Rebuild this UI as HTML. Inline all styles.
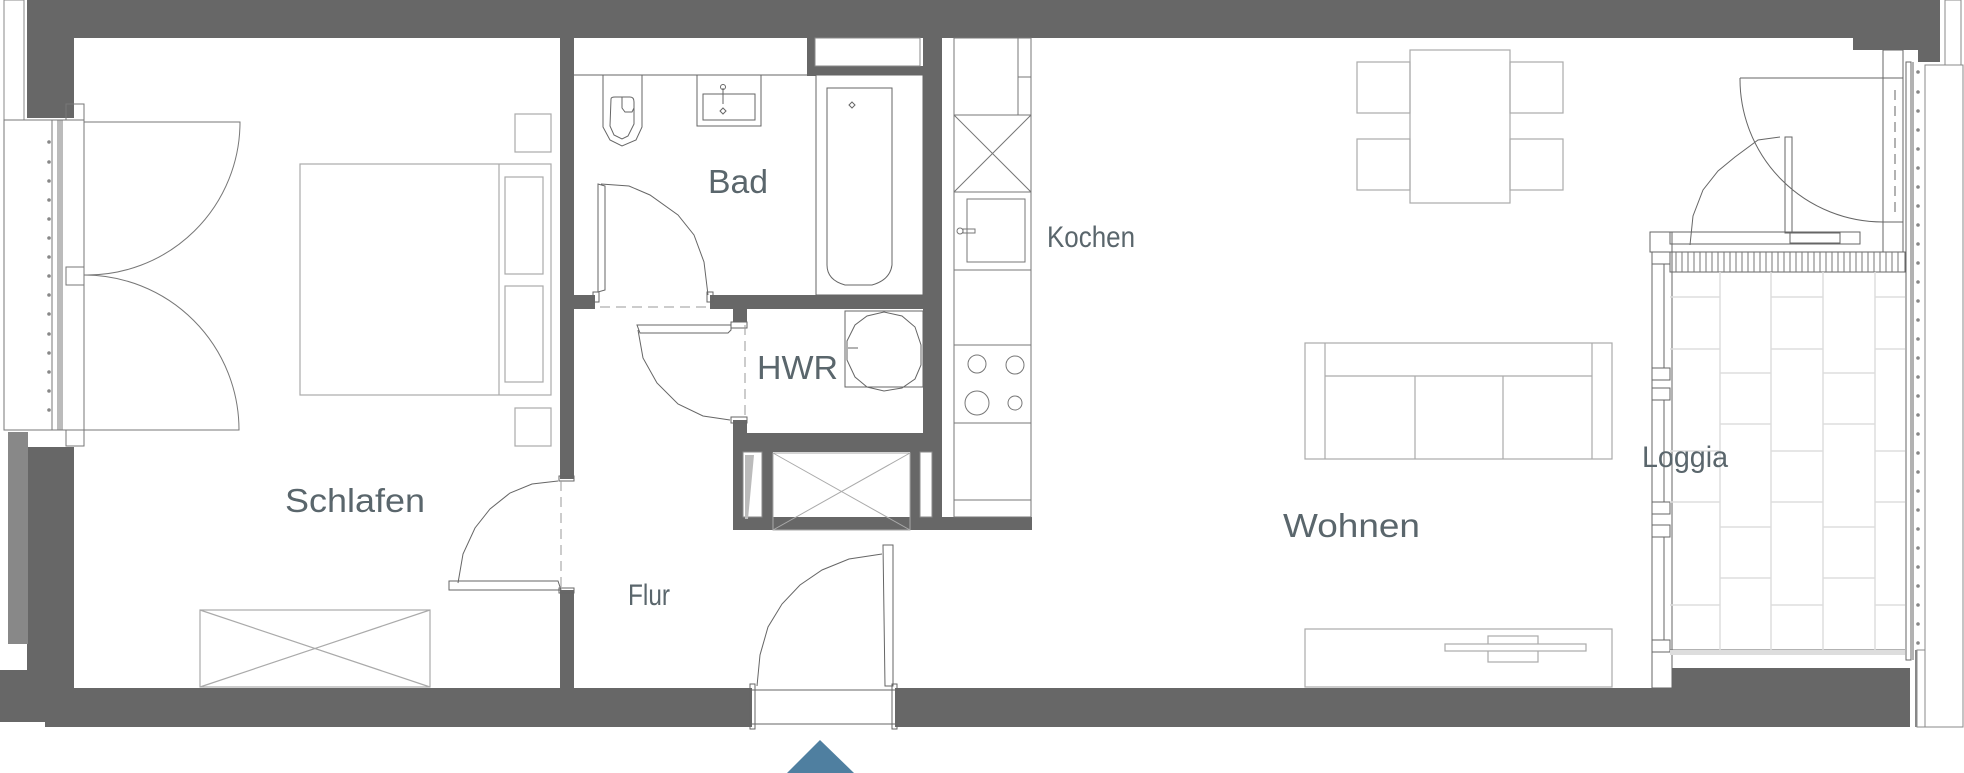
<!DOCTYPE html>
<html><head><meta charset="utf-8"><style>
html,body{margin:0;padding:0;background:#fff;}
svg{display:block;}
text{font-family:"Liberation Sans",sans-serif;fill:#5a666c;font-size:33px;}
</style></head><body>
<svg width="1964" height="773" viewBox="0 0 1964 773" xmlns="http://www.w3.org/2000/svg">
<g fill="#676767" stroke="none">
<rect x="27" y="0" width="1913" height="38"/>
<rect x="1853" y="38" width="87" height="12"/>
<rect x="1918" y="50" width="22" height="12"/>
<rect x="27" y="0" width="47" height="118"/>
<rect x="27" y="447" width="47" height="241"/>
<rect x="8" y="432" width="20" height="212" fill="#888"/>
<rect x="0" y="670" width="45" height="52"/>
<rect x="45" y="688" width="707" height="39"/>
<rect x="895" y="688" width="757" height="39"/>
<rect x="1652" y="688" width="258" height="39"/>
<rect x="1672" y="668" width="238" height="20"/>
<rect x="1915" y="650" width="20" height="16" fill="#888"/>
<rect x="1915" y="666" width="10" height="61" fill="#888"/>
<rect x="560" y="38" width="14" height="441"/>
<rect x="560" y="590" width="14" height="98"/>
<rect x="560" y="295" width="35" height="14"/>
<rect x="710" y="295" width="232" height="14"/>
<rect x="923" y="38" width="19" height="492"/>
<rect x="807" y="38" width="9" height="38"/>
<rect x="807" y="66" width="116" height="9"/>
<rect x="733" y="309" width="14" height="13"/>
<rect x="733" y="420" width="14" height="110"/>
<rect x="733" y="433" width="209" height="19"/>
<rect x="762" y="452" width="11" height="78"/>
<rect x="910" y="452" width="10" height="78"/>
<rect x="733" y="517" width="299" height="13"/>
</g>
<g fill="#fff" stroke="#888" stroke-width="1">
<rect x="4" y="0" width="20" height="120"/>
<rect x="1945" y="0" width="16" height="65"/>
<rect x="1925" y="65" width="38" height="662"/>
<rect x="815" y="38" width="105" height="28"/>
<rect x="743" y="452" width="19" height="65"/>
<rect x="920" y="452" width="12" height="65"/>
<rect x="1917" y="650" width="8" height="77"/>
</g>
<g fill="none" stroke="#777" stroke-width="1">
<rect x="4" y="120" width="48" height="310"/>
<rect x="52" y="120" width="8" height="310"/>
<rect x="58" y="120" width="26" height="310"/>
<rect x="66" y="104" width="18" height="16"/>
<rect x="66" y="430" width="18" height="16"/>
<rect x="66" y="267" width="18" height="18"/>
<line x1="62" y1="120" x2="62" y2="430"/>
<path d="M84 122 H240 A153 153 0 0 1 84 275"/>
<path d="M84 275 A155 155 0 0 1 239 430 H84"/>
</g>
<g fill="#888"><circle cx="49" cy="142" r="1.8"/><circle cx="49" cy="162" r="1.8"/><circle cx="49" cy="181" r="1.8"/><circle cx="49" cy="200" r="1.8"/><circle cx="49" cy="219" r="1.8"/><circle cx="49" cy="238" r="1.8"/><circle cx="49" cy="257" r="1.8"/><circle cx="49" cy="276" r="1.8"/><circle cx="49" cy="295" r="1.8"/><circle cx="49" cy="314" r="1.8"/><circle cx="49" cy="334" r="1.8"/><circle cx="49" cy="353" r="1.8"/><circle cx="49" cy="372" r="1.8"/><circle cx="49" cy="391" r="1.8"/><circle cx="49" cy="410" r="1.8"/></g>
<g fill="none" stroke="#aaa" stroke-width="1.2">
<rect x="515" y="114" width="36" height="38"/>
<rect x="300" y="164" width="251" height="231"/>
<line x1="499" y1="164" x2="499" y2="395"/>
<rect x="505" y="177" width="38" height="97"/>
<rect x="505" y="286" width="38" height="96"/>
<rect x="515" y="408" width="36" height="38"/>
<rect x="200" y="610" width="230" height="77"/>
<path d="M200 610 L430 687 M430 610 L200 687"/>
</g>
<g fill="none" stroke="#666" stroke-width="1">
<path d="M558 481 L532 484 L510 493 L490 509 L475 528 L463 554 L458 583"/>
<path d="M449 581 H558 L561 590 H449 Z"/>
<rect x="559" y="476" width="15" height="5"/><rect x="559" y="588" width="15" height="5"/>
<line x1="561" y1="481" x2="561" y2="588" stroke-dasharray="10 6" stroke="#999"/>
</g>
<g fill="none" stroke="#666" stroke-width="1">
<line x1="574" y1="75" x2="807" y2="75"/>
<path d="M603 75 V127 L610 140 L622 146 L636 140 L642 127 V75"/>
<path d="M611 99 Q611 97 615 97 H630 Q634 97 634 102 V124 L628 136 L622 139 L614 135 L610 126 Z"/>
<path d="M622 97 V108 L625 112 H632 L634 108"/>
<rect x="697" y="75" width="64" height="51"/>
<rect x="703" y="94" width="52" height="26"/>
<line x1="723" y1="88" x2="723" y2="104"/><circle cx="723" cy="87" r="2.5"/><path d="M723 108 l3 3 -3 3 -3 -3z"/>
<rect x="816" y="75" width="107" height="220"/>
<path d="M827 88 V265 Q827 280 845 285 H872 Q890 280 892 265 V88 Z"/>
<path d="M852 102 l3 3 -3 3 -3 -3z"/>
<path d="M598 184 L605 186 V290 L598 292 Z"/>
<path d="M601 184 L629 186 L650 195 L678 215 L694 235 L704 262 L708 295"/>
<rect x="593" y="292" width="6" height="10"/><rect x="707" y="292" width="6" height="10"/>
<line x1="600" y1="307" x2="710" y2="307" stroke-dasharray="10 6" stroke="#999"/>
</g>
<g fill="none" stroke="#666" stroke-width="1">
<path d="M637 325 H731 V330 L728 333 H640 Z"/>
<path d="M638 330 L643 358 L657 383 L678 404 L703 416 L730 420"/>
<rect x="731" y="322" width="16" height="6"/><rect x="731" y="417" width="16" height="6"/>
<line x1="745" y1="325" x2="745" y2="420" stroke-dasharray="10 6" stroke="#999"/>
<rect x="845" y="311" width="78" height="76"/>
<path d="M884 312 L902 316 L915 327 L921 345 L921 365 L915 379 L902 388 L884 391 L867 387 L855 377 L847 360 L847 341 L855 325 L867 316 Z"/>
<line x1="848" y1="348" x2="858" y2="348"/>
</g>
<g fill="none" stroke="#aaa" stroke-width="1"><rect x="773" y="453" width="137" height="77"/><path d="M773 453 L910 530 M910 453 L773 530"/></g>
<path d="M745 455 L754 455 L748 519 L745 519Z" fill="#bbb"/>
<g fill="none" stroke="#777" stroke-width="1">
<rect x="954" y="38" width="77" height="479"/>
<line x1="1018" y1="38" x2="1018" y2="115"/><line x1="1018" y1="77" x2="1031" y2="77"/>
<line x1="954" y1="115" x2="1031" y2="115"/><line x1="954" y1="192" x2="1031" y2="192"/>
<path d="M954 115 L1031 192 M1031 115 L954 192"/>
<line x1="954" y1="270" x2="1031" y2="270"/><line x1="954" y1="345" x2="1031" y2="345"/>
<line x1="954" y1="423" x2="1031" y2="423"/><line x1="954" y1="500" x2="1031" y2="500"/>
<rect x="967" y="199" width="58" height="63"/>
<circle cx="960" cy="231" r="3"/><rect x="963" y="229" width="12" height="4"/>
<circle cx="977" cy="364" r="9"/><circle cx="1015" cy="365" r="9"/><circle cx="977" cy="403" r="12"/><circle cx="1015" cy="403" r="7"/>
</g>
<g fill="none" stroke="#666" stroke-width="1">
<path d="M757 686 L760 655 L768 627 L782 604 L800 585 L822 570 L849 559 L882 554"/>
<path d="M883 545 H893 V686 H885 Z"/>
<rect x="750" y="684" width="5" height="45"/><rect x="892" y="684" width="5" height="45"/>
<line x1="752" y1="690" x2="895" y2="690"/><line x1="752" y1="724" x2="895" y2="724"/>
</g>
<polygon points="787,773 820,740 854,773" fill="#4f7fa0"/>
<g fill="none" stroke="#aaa" stroke-width="1.2">
<rect x="1410" y="50" width="100" height="153"/>
<rect x="1357" y="62" width="53" height="51"/><rect x="1357" y="139" width="53" height="51"/>
<rect x="1510" y="62" width="53" height="51"/><rect x="1510" y="139" width="53" height="51"/>
<rect x="1305" y="343" width="307" height="116"/>
<path d="M1325 343 V459 M1592 343 V459 M1325 376 H1592 M1415 376 V459 M1503 376 V459"/>
<rect x="1305" y="629" width="307" height="58"/>
<rect x="1488" y="636" width="50" height="26"/>
<rect x="1445" y="644" width="141" height="7" fill="#fff"/>
</g>
<g fill="none" stroke="#666" stroke-width="1">
<path d="M1740 78 H1883 V222 A143 143 0 0 1 1740 78"/>
<rect x="1883" y="78" width="20" height="144"/>
<rect x="1883" y="50" width="20" height="28"/><rect x="1883" y="222" width="20" height="30"/>
<line x1="1895" y1="90" x2="1895" y2="212" stroke-dasharray="10 6"/>
<rect x="1906" y="62" width="5" height="598"/><line x1="1913" y1="62" x2="1913" y2="660"/>
<path d="M1690 245 L1693 216 L1703 190 L1718 171 L1735 157 L1758 140 L1780 137"/>
<rect x="1785" y="137" width="7" height="96"/>
<rect x="1650" y="232" width="22" height="20"/>
<rect x="1670" y="232" width="190" height="12"/>
<line x1="1680" y1="244" x2="1820" y2="244" stroke-dasharray="14 8"/>
<rect x="1790" y="233" width="50" height="10"/>
<rect x="1652" y="252" width="20" height="436"/>
<rect x="1652" y="252" width="18" height="12"/>
<rect x="1652" y="368" width="18" height="12"/><rect x="1652" y="388" width="18" height="12"/>
<rect x="1652" y="502" width="18" height="12"/><rect x="1652" y="525" width="18" height="12"/>
<rect x="1652" y="640" width="18" height="12"/>
<line x1="1664" y1="264" x2="1664" y2="368"/><line x1="1664" y1="400" x2="1664" y2="502"/><line x1="1664" y1="537" x2="1664" y2="640"/>
<rect x="1670" y="252" width="235" height="20"/>
<line x1="1670" y1="650" x2="1905" y2="650"/>
</g>
<g stroke="#777" stroke-width="1">
<path d="M1676 252v20M1682 252v20M1688 252v20M1694 252v20M1700 252v20M1706 252v20M1712 252v20M1718 252v20M1724 252v20M1730 252v20M1736 252v20M1742 252v20M1748 252v20M1754 252v20M1760 252v20M1766 252v20M1772 252v20M1778 252v20M1784 252v20M1790 252v20M1796 252v20M1802 252v20M1808 252v20M1814 252v20M1820 252v20M1826 252v20M1832 252v20M1838 252v20M1844 252v20M1850 252v20M1856 252v20M1862 252v20M1868 252v20M1874 252v20M1880 252v20M1886 252v20M1892 252v20M1898 252v20"/>
</g>
<rect x="1670" y="650" width="235" height="5" fill="#ddd"/>
<g stroke="#ddd" stroke-width="1.5" fill="none">
<path d="M1720 272V650M1771 272V650M1823 272V650M1875 272V650"/>
<path d="M1670 297H1720M1670 349H1720M1670 451H1720M1670 502H1720M1670 605H1720"/>
<path d="M1771 297H1823M1771 349H1823M1771 451H1823M1771 502H1823M1771 605H1823"/>
<path d="M1875 297H1905M1875 349H1905M1875 451H1905M1875 502H1905M1875 605H1905"/>
<path d="M1720 373H1771M1720 424H1771M1720 527H1771M1720 578H1771"/>
<path d="M1823 373H1875M1823 424H1875M1823 527H1875M1823 578H1875"/>
</g>
<g fill="#888"><circle cx="1918" cy="72" r="1.8"/><circle cx="1918" cy="92" r="1.8"/><circle cx="1918" cy="111" r="1.8"/><circle cx="1918" cy="130" r="1.8"/><circle cx="1918" cy="149" r="1.8"/><circle cx="1918" cy="168" r="1.8"/><circle cx="1918" cy="187" r="1.8"/><circle cx="1918" cy="206" r="1.8"/><circle cx="1918" cy="225" r="1.8"/><circle cx="1918" cy="244" r="1.8"/><circle cx="1918" cy="263" r="1.8"/><circle cx="1918" cy="282" r="1.8"/><circle cx="1918" cy="301" r="1.8"/><circle cx="1918" cy="320" r="1.8"/><circle cx="1918" cy="339" r="1.8"/><circle cx="1918" cy="358" r="1.8"/><circle cx="1918" cy="377" r="1.8"/><circle cx="1918" cy="396" r="1.8"/><circle cx="1918" cy="415" r="1.8"/><circle cx="1918" cy="434" r="1.8"/><circle cx="1918" cy="453" r="1.8"/><circle cx="1918" cy="472" r="1.8"/><circle cx="1918" cy="491" r="1.8"/><circle cx="1918" cy="510" r="1.8"/><circle cx="1918" cy="529" r="1.8"/><circle cx="1918" cy="548" r="1.8"/><circle cx="1918" cy="567" r="1.8"/><circle cx="1918" cy="586" r="1.8"/><circle cx="1918" cy="605" r="1.8"/><circle cx="1918" cy="624" r="1.8"/><circle cx="1918" cy="643" r="1.8"/></g>
<text x="285" y="512" textLength="140" lengthAdjust="spacingAndGlyphs">Schlafen</text>
<text x="708" y="193" textLength="60" lengthAdjust="spacingAndGlyphs">Bad</text>
<text x="1047" y="247" textLength="88" lengthAdjust="spacingAndGlyphs" style="font-size:30px">Kochen</text>
<text x="757" y="379" textLength="81" lengthAdjust="spacingAndGlyphs">HWR</text>
<text x="628" y="605" textLength="42" lengthAdjust="spacingAndGlyphs" style="font-size:30px">Flur</text>
<text x="1283" y="537" textLength="137" lengthAdjust="spacingAndGlyphs">Wohnen</text>
<text x="1642" y="467" textLength="86" lengthAdjust="spacingAndGlyphs" style="font-size:30px">Loggia</text>
</svg>
</body></html>
